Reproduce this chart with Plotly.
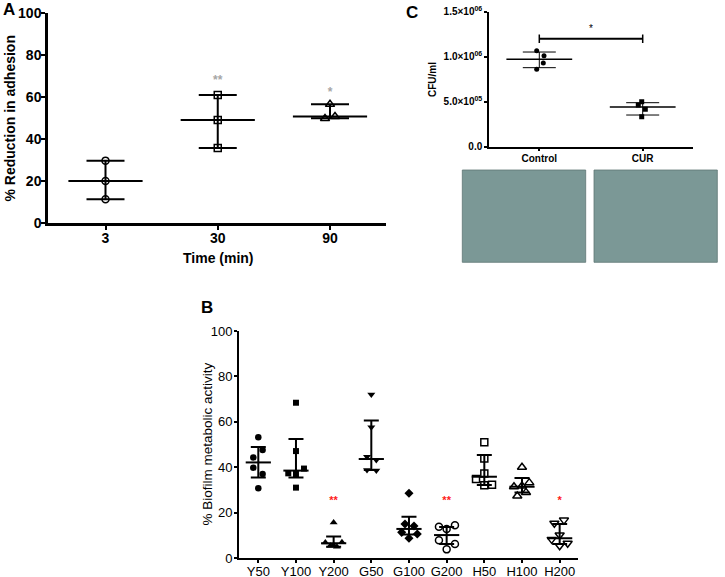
import plotly.graph_objects as go

W, H = 725, 577
FONT = "Liberation Sans, Arial, sans-serif"

# ---------------- Panel A data ----------------
a_times = ["3", "30", "90"]
a_points = [[29.7, 20.0, 11.3], [61.0, 49.0, 35.7], [56.5, 49.8, 50.7]]
a_center = [20.0, 49.0, 50.7]
a_upper = [29.7, 61.0, 56.6]
a_lower = [11.3, 35.7, 49.9]
a_sig = ["", "**", "*"]
a_sig_y = [None, 67.8, 61.8]

# ---------------- Panel B data ----------------
b_groups = ["Y50", "Y100", "Y200", "G50", "G100", "G200", "H50", "H100", "H200"]
b_points = [
    [53.2, 47.6, 44.3, 39.8, 37.0, 30.7],
    [68.4, 47.1, 39.4, 37.3, 37.0, 31.0],
    [15.6, 6.8, 6.9, 5.4, 5.0, 5.6],
    [72.0, 57.6, 44.6, 43.2, 38.8, 38.6],
    [28.5, 15.0, 14.1, 11.3, 10.6, 8.7],
    [13.8, 14.4, 12.8, 7.8, 6.2, 3.8],
    [51.0, 43.8, 37.2, 34.8, 32.0, 32.3],
    [40.0, 33.2, 31.4, 31.7, 28.9, 27.3],
    [16.7, 15.3, 10.1, 8.2, 6.5, 5.4],
]
b_center = [42.1, 38.5, 6.5, 43.6, 12.8, 10.1, 35.8, 31.4, 8.7]
b_upper = [48.9, 52.4, 9.5, 60.6, 18.2, 13.7, 45.4, 35.2, 15.0]
b_lower = [35.5, 35.5, 5.0, 38.8, 10.4, 6.2, 32.2, 28.9, 6.2]
b_sig = ["", "", "**", "", "", "**", "", "", "*"]
b_sig_y = 24.8

# ---------------- Panel C data ----------------
c_groups = ["Control", "CUR"]
c_points = [[1.067e6, 1.011e6, 0.930e6, 0.860e6], [0.500e6, 0.463e6, 0.415e6, 0.333e6]]
c_center = [0.971e6, 0.441e6]
c_upper = [1.052e6, 0.489e6]
c_lower = [0.878e6, 0.352e6]
c_tickvals = [0, 5e5, 1e6, 1.5e6]
c_ticktext = ["0.0", "5.0×10<sup>05</sup>", "1.0×10<sup>06</sup>", "1.5×10<sup>06</sup>"]
c_bracket_y = 1.2e6
c_star_y = 1.30e6

# ---------------- styles / layout positions (pixels) ----------------
a_jitter_px = [[0, 0, 0], [0, 0, 0], [0, -5, 5]]
a_symbols = ["circle-open", "square-open", "triangle-up-open"]
a_sizes = [7, 7, 8]
b_jitter_px = [
    [0, 4.3, -5, -5, 4.3, 0],
    [0, 0, 8, -7.7, 0, 0],
    [0, -8.3, 8.3, -3.3, 3.3, 0],
    [0, 0, -4.3, 5, -4.3, 5],
    [0, -4, 5, -7.3, 8.3, 0],
    [-7.7, 8.3, 0, -7.7, 8.3, 0],
    [0, 0, 0, -8.3, 0, 7.7],
    [0, 7.3, -8, 0, 4, -4.7],
    [4.3, -5.3, 0, -8, 8, 0],
]
b_symbols = ["circle", "square", "triangle-up", "triangle-down", "diamond",
             "circle-open", "square-open", "triangle-up-open", "triangle-down-open"]
b_sizes = [6.5, 6, 7, 7, 7, 7, 7, 8, 8]
c_jitter_px = [[-2.6, 4.7, 4.0, -2.6], [-1, -4.4, 2.6, -1]]
c_symbols = ["circle", "square"]


def px_x(p):
    return p / W


def px_y(p):
    return 1 - p / H


# axis geometry (pixels)
A_L, A_R, A_T, A_B = 48, 386, 13, 223
A_X0, A_STEP = 105.5, 112.25
B_L, B_R, B_T, B_B = 239, 578, 331, 558
B_X0, B_STEP = 258.3, 37.67
C_L, C_R, C_T, C_B = 489, 693, 11.7, 146.7
C_X0, C_STEP = 539.3, 103.4

fig = go.Figure()


def add_group(i, pts, jit, step, center, upper, lower, xa, ya, symbol, size,
              mline_size, cap_half, thick, vthick=None):
    xs = [i + j / step for j in jit]
    filled = not symbol.endswith("open")
    fig.add_trace(go.Scatter(
        x=xs, y=pts, mode="markers", xaxis=xa, yaxis=ya, hoverinfo="skip",
        marker=dict(symbol=symbol, size=size, color="black",
                    line=dict(color="black", width=0 if filled else 1.5)),
    ))
    fig.add_trace(go.Scatter(
        x=[i], y=[center], mode="markers", xaxis=xa, yaxis=ya, hoverinfo="skip",
        marker=dict(symbol="line-ew", size=mline_size, color="black",
                    line=dict(color="black", width=thick)),
        error_y=dict(type="data", symmetric=False, array=[upper - center],
                     arrayminus=[center - lower], width=cap_half,
                     thickness=vthick if vthick else thick, color="black"),
    ))


# Panel A
for i in range(len(a_times)):
    add_group(i, a_points[i], a_jitter_px[i], A_STEP, a_center[i], a_upper[i], a_lower[i],
              "x", "y", a_symbols[i], a_sizes[i], 53, 19, 2)
sig_x = [i for i in range(len(a_times)) if a_sig[i]]
fig.add_trace(go.Scatter(
    x=sig_x, y=[a_sig_y[i] for i in sig_x], text=[a_sig[i] for i in sig_x],
    mode="text", xaxis="x", yaxis="y", hoverinfo="skip",
    textfont=dict(family=FONT, size=12, color="#a6a6a6", weight="bold"),
))

# Panel B
for i in range(len(b_groups)):
    add_group(i, b_points[i], b_jitter_px[i], B_STEP, b_center[i], b_upper[i], b_lower[i],
              "x3", "y3", b_symbols[i], b_sizes[i], 18, 7.5, 2)
sig_xb = [i for i in range(len(b_groups)) if b_sig[i]]
fig.add_trace(go.Scatter(
    x=sig_xb, y=[b_sig_y] * len(sig_xb), text=[b_sig[i] for i in sig_xb],
    mode="text", xaxis="x3", yaxis="y3", hoverinfo="skip",
    textfont=dict(family=FONT, size=11, color="#ff1a1a", weight="bold"),
))

# Panel C
for i in range(len(c_groups)):
    add_group(i, c_points[i], c_jitter_px[i], C_STEP, c_center[i], c_upper[i], c_lower[i],
              "x2", "y2", c_symbols[i], 5, 47, 16.5, 1.5, vthick=1.0)
fig.add_trace(go.Scatter(
    x=[0, 1], y=[c_bracket_y, c_bracket_y], mode="lines+markers", xaxis="x2", yaxis="y2",
    hoverinfo="skip", line=dict(color="black", width=2),
    marker=dict(symbol="line-ns", size=6, color="black", line=dict(color="black", width=1.5)),
))
fig.add_trace(go.Scatter(
    x=[0.5], y=[c_star_y], text=["*"], mode="text", xaxis="x2", yaxis="y2",
    hoverinfo="skip", textfont=dict(family=FONT, size=10, color="black"),
))

axis_common = dict(showgrid=False, zeroline=False, showline=True, linecolor="black",
                   ticks="outside", tickcolor="black", automargin=False)

fig.update_layout(
    width=W, height=H, margin=dict(l=0, r=0, t=0, b=0, pad=0, autoexpand=False),
    paper_bgcolor="white", plot_bgcolor="white", showlegend=False,
    font=dict(family=FONT, color="black"),
    # Panel A
    xaxis=dict(axis_common, domain=[px_x(A_L), px_x(A_R)],
               range=[-(A_X0 - A_L) / A_STEP, 2 + (A_R - (A_X0 + 2 * A_STEP)) / A_STEP],
               tickvals=list(range(len(a_times))), ticktext=a_times,
               linewidth=2.5, tickwidth=2, ticklen=4, ticklabelstandoff=-4,
               tickfont=dict(family=FONT, size=14, weight="bold"), anchor="y"),
    yaxis=dict(axis_common, domain=[px_y(A_B), px_y(A_T)], range=[0, 100],
               tickvals=[0, 20, 40, 60, 80, 100], linewidth=2.5, tickwidth=2, ticklen=4,
               ticklabelstandoff=-3,
               tickfont=dict(family=FONT, size=14, weight="bold"), anchor="x"),
    # Panel C
    xaxis2=dict(axis_common, domain=[px_x(C_L), px_x(C_R)],
                range=[-(C_X0 - C_L) / C_STEP, 1 + (C_R - (C_X0 + C_STEP)) / C_STEP],
                tickvals=list(range(len(c_groups))), ticktext=c_groups,
                linewidth=1.5, tickwidth=1.5, ticklen=3, ticklabelstandoff=-1,
                tickfont=dict(family=FONT, size=10, weight="bold"), anchor="y2"),
    yaxis2=dict(axis_common, domain=[px_y(C_B), px_y(C_T)], range=[0, 1.5e6],
                tickvals=c_tickvals, ticktext=c_ticktext,
                linewidth=1.5, tickwidth=1.5, ticklen=3,
                tickfont=dict(family=FONT, size=10, weight="bold"), anchor="x2"),
    # Panel B
    xaxis3=dict(axis_common, domain=[px_x(B_L), px_x(B_R)],
                range=[-(B_X0 - B_L) / B_STEP, 8 + (B_R - (B_X0 + 8 * B_STEP)) / B_STEP],
                tickvals=list(range(len(b_groups))), ticktext=b_groups,
                linewidth=2, tickwidth=1.5, ticklen=3, ticklabelstandoff=-3,
                tickfont=dict(family=FONT, size=13), anchor="y3"),
    yaxis3=dict(axis_common, domain=[px_y(B_B), px_y(B_T)], range=[0, 100],
                tickvals=[0, 20, 40, 60, 80, 100], linewidth=2, tickwidth=1.5, ticklen=3,
                ticklabelstandoff=-1,
                tickfont=dict(family=FONT, size=13), anchor="x3"),
)

ann = [
    dict(text="A", x=9, y=10, size=17, bold=True),
    dict(text="C", x=412, y=12, size=17, bold=True),
    dict(text="B", x=207, y=307, size=17, bold=True),
    dict(text="% Reduction in adhesion", x=9, y=118.5, size=14, bold=True, angle=-90),
    dict(text="Time (min)", x=218, y=258, size=14, bold=True),
    dict(text="% Biofilm metabolic activity", x=207, y=444.5, size=13.5, bold=False, angle=-90),
    dict(text="CFU/ml", x=433, y=80, size=10, bold=True, angle=-90),
]
for a in ann:
    fig.add_annotation(
        text=a["text"], x=px_x(a["x"]), y=px_y(a["y"]), xref="paper", yref="paper",
        showarrow=False, xanchor="center", yanchor="middle", textangle=a.get("angle", 0),
        font=dict(family=FONT, size=a["size"], color="black",
                  weight="bold" if a["bold"] else "normal"),
    )

# micrograph placeholders
for x0, x1 in [(462.3, 585.7), (594.0, 717.3)]:
    fig.add_shape(type="rect", xref="paper", yref="paper",
                  x0=px_x(x0), x1=px_x(x1), y0=px_y(262.3), y1=px_y(170),
                  fillcolor="#7b9896", line=dict(color="#5f7675", width=0.8), layer="below")

# remove the default 8px page margin so the figure fills the window exactly
fig.write_html("out.html", config={"displayModeBar": False},
               post_script="document.body.style.margin='0px';")
